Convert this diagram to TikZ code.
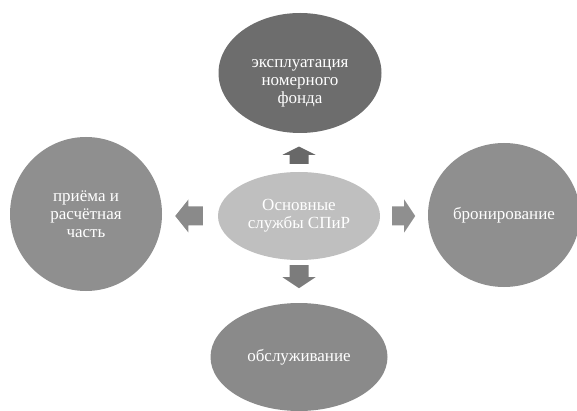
\documentclass[tikz,border=0pt]{standalone}
\usepackage{fontspec}
\setmainfont{Liberation Serif}
\usetikzlibrary{shapes.geometric}
\definecolor{darkgrey}{HTML}{6D6D6D}
\definecolor{midgrey}{HTML}{8F8F8F}
\definecolor{lowgrey}{HTML}{8A8A8A}
\definecolor{coregrey}{HTML}{BFBFBF}
\tikzset{
service/.style={ellipse, inner sep=0pt, text=white, align=center,
  font=\fontsize{17}{18}\selectfont},
blockarrow/.pic={
  \fill (0,-9.5) -- (12,-9.5) -- (12,-16.5) -- (23,0) -- (12,16.5) -- (12,9.5) -- (0,9.5) -- cycle;
  }
}
\begin{document}
\begin{tikzpicture}[x=1pt, y=-1pt]
  \useasboundingbox (0,0) rectangle (577,411);
  \node[service, fill=coregrey, minimum width=162pt, minimum height=88pt] (core) at (299,216) {Основные\\службы СПиР};
  % text sits a little below the middle of this one
  \node[service, fill=darkgrey, minimum width=163pt, minimum height=120pt] (fund) at (300,73) {\rule{0pt}{28pt}эксплуатация\\номерного\\фонда};
  \node[service, fill=midgrey, minimum width=152pt, minimum height=154pt] (desk) at (86,214) {приёма и\\расчётная\\часть};
  \node[service, fill=midgrey, minimum width=152pt, minimum height=144pt] (booking) at (504,215) {бронирование};
  \node[service, fill=lowgrey, minimum width=177pt, minimum height=108pt] (care) at (299,357) {обслуживание};
  \pic[fill=darkgrey!95!black, rotate=90, xscale=0.75] at ([yshift=8pt]core.north) {blockarrow};
  \pic[fill=lowgrey!90!black, rotate=-90] at ([yshift=-5pt]core.south) {blockarrow};
  \pic[fill=lowgrey, rotate=180, xscale=1.2] at ([xshift=-15pt]core.west) {blockarrow};
  \pic[fill=midgrey] at ([xshift=12pt]core.east) {blockarrow};
\end{tikzpicture}
\end{document}
